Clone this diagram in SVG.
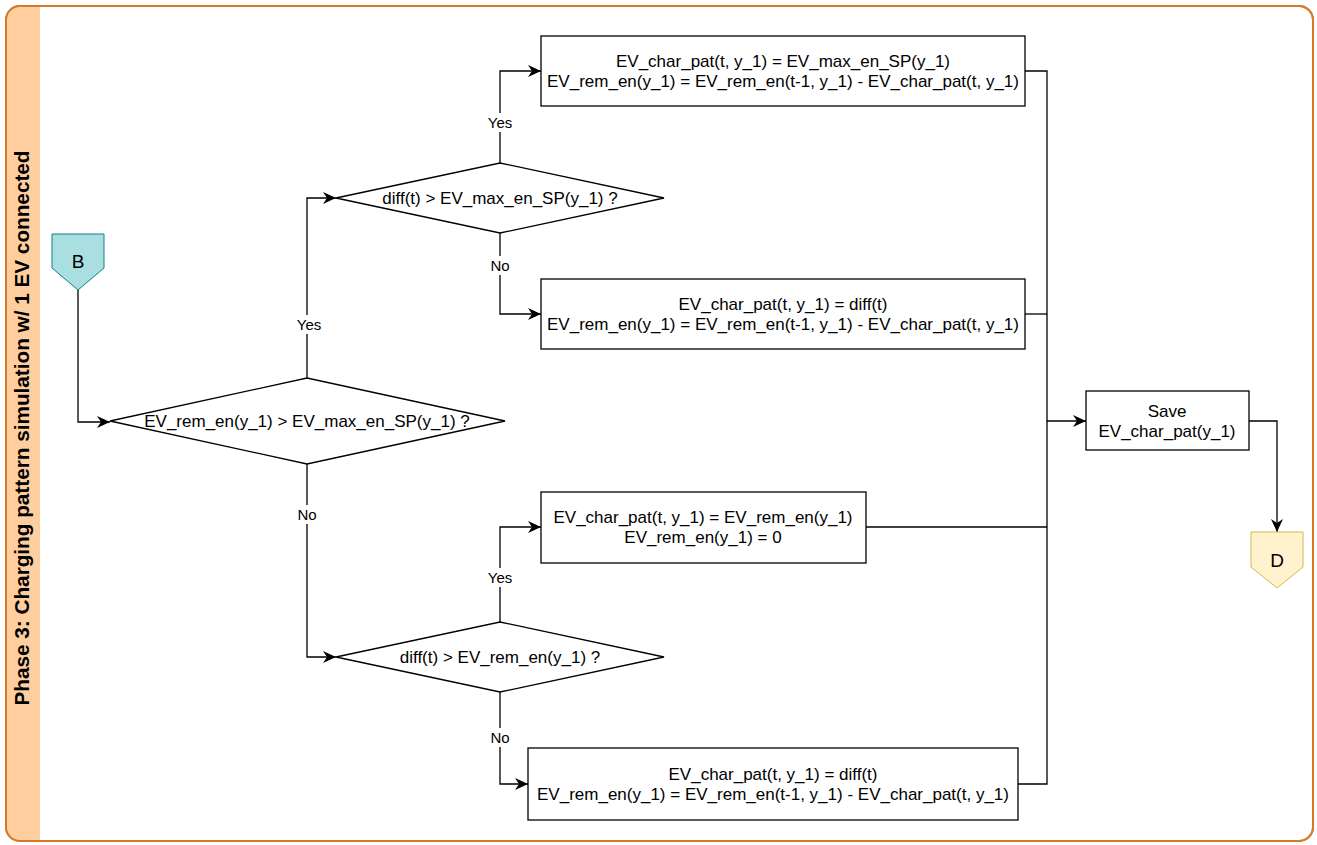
<svg xmlns="http://www.w3.org/2000/svg" width="1317" height="845" viewBox="0 0 1317 845">
<style>
.t{font-family:"Liberation Sans",Arial,sans-serif;font-size:17px;fill:#000;text-anchor:middle}
.lb{font-family:"Liberation Sans",Arial,sans-serif;font-size:15px;fill:#000;text-anchor:middle}
.box{fill:#fff;stroke:#000;stroke-width:1.3}
.c{fill:none;stroke:#000;stroke-width:1.3}
</style>
<defs>
<marker id="arr" markerWidth="14" markerHeight="12" refX="13" refY="6" orient="auto" markerUnits="userSpaceOnUse">
<path d="M0,0 L13,6 L0,12 L4,6 Z" fill="#000"/>
</marker>
</defs>
<g id="container">
<rect x="6" y="6" width="1307" height="835" rx="14" ry="14" fill="#fff" stroke="#D37A2C" stroke-width="2"/>
<path d="M40,7 L20,7 Q7,7 7,20 L7,827 Q7,840 20,840 L40,840 Z" fill="#FFCE9F"/>
<rect x="6" y="6" width="1307" height="835" rx="14" ry="14" fill="none" stroke="#D37A2C" stroke-width="2"/>
<text transform="translate(29,428) rotate(-90)" textLength="555" lengthAdjust="spacingAndGlyphs" style="font-family:'Liberation Sans',Arial,sans-serif;font-size:20px;font-weight:bold;text-anchor:middle">Phase 3: Charging pattern simulation w/ 1 EV connected</text>
</g>
<g id="connectors">
<polyline class="c" points="78,290 78,422 110,422" marker-end="url(#arr)"/>
<polyline class="c" points="307,378 307,198 336,198" marker-end="url(#arr)"/>
<polyline class="c" points="307,464 307,657 336,657" marker-end="url(#arr)"/>
<polyline class="c" points="500,163 500,71 541,71" marker-end="url(#arr)"/>
<polyline class="c" points="500,233 500,314 541,314" marker-end="url(#arr)"/>
<polyline class="c" points="500,622 500,527 541,527" marker-end="url(#arr)"/>
<polyline class="c" points="500,692 500,784 528,784" marker-end="url(#arr)"/>
<polyline class="c" points="1025,71 1047,71 1047,421 1086,421" marker-end="url(#arr)"/>
<polyline class="c" points="1025,314 1047,314"/>
<polyline class="c" points="866,527 1047,527"/>
<polyline class="c" points="1018,784 1047,784 1047,421"/>
<polyline class="c" points="1249,421 1277,421 1277,532" marker-end="url(#arr)"/>
<rect x="294" y="315" width="30" height="19" fill="#fff"/>
<text class="lb" x="309" y="330">Yes</text>
<rect x="295" y="505" width="24" height="19" fill="#fff"/>
<text class="lb" x="307" y="520">No</text>
<rect x="485" y="113" width="30" height="19" fill="#fff"/>
<text class="lb" x="500" y="128">Yes</text>
<rect x="488" y="256" width="24" height="19" fill="#fff"/>
<text class="lb" x="500" y="271">No</text>
<rect x="485" y="568" width="30" height="19" fill="#fff"/>
<text class="lb" x="500" y="583">Yes</text>
<rect x="488" y="728" width="24" height="19" fill="#fff"/>
<text class="lb" x="500" y="743">No</text>
</g>
<g id="nodeB">
<path d="M52,234 L104,234 L104,268 L78,290 L52,268 Z" fill="#A9DFE0" stroke="#0E8088" stroke-width="1"/>
<text class="t" x="78" y="268" style="font-size:19px">B</text>
</g>
<g id="dec1">
<path d="M110,421 L307,378 L505,421 L307,464 Z" class="box"/>
<text class="t" x="307" y="427">EV_rem_en(y_1) &gt; EV_max_en_SP(y_1) ?</text>
</g>
<g id="dec2">
<path d="M336,198 L500,163 L664,198 L500,233 Z" class="box"/>
<text class="t" x="500" y="204">diff(t) &gt; EV_max_en_SP(y_1) ?</text>
</g>
<g id="dec3">
<path d="M336,657 L500,622 L664,657 L500,692 Z" class="box"/>
<text class="t" x="500" y="663">diff(t) &gt; EV_rem_en(y_1) ?</text>
</g>
<g id="box1">
<rect x="541" y="36" width="484" height="70" class="box"/>
<text class="t" x="783" y="67">EV_char_pat(t, y_1) = EV_max_en_SP(y_1)</text>
<text class="t" x="783" y="87">EV_rem_en(y_1) = EV_rem_en(t-1, y_1) - EV_char_pat(t, y_1)</text>
</g>
<g id="box2">
<rect x="541" y="279" width="484" height="70" class="box"/>
<text class="t" x="783" y="310">EV_char_pat(t, y_1) = diff(t)</text>
<text class="t" x="783" y="330">EV_rem_en(y_1) = EV_rem_en(t-1, y_1) - EV_char_pat(t, y_1)</text>
</g>
<g id="box3">
<rect x="541" y="492" width="325" height="71" class="box"/>
<text class="t" x="703" y="523">EV_char_pat(t, y_1) = EV_rem_en(y_1)</text>
<text class="t" x="703" y="543">EV_rem_en(y_1) = 0</text>
</g>
<g id="box4">
<rect x="528" y="748" width="490" height="72" class="box"/>
<text class="t" x="773" y="780">EV_char_pat(t, y_1) = diff(t)</text>
<text class="t" x="773" y="800">EV_rem_en(y_1) = EV_rem_en(t-1, y_1) - EV_char_pat(t, y_1)</text>
</g>
<g id="save">
<rect x="1086" y="391" width="163" height="59" class="box"/>
<text class="t" x="1167" y="417">Save</text>
<text class="t" x="1167" y="437">EV_char_pat(y_1)</text>
</g>
<g id="nodeD">
<path d="M1251,532 L1303,532 L1303,567 L1277,588 L1251,567 Z" fill="#FFF2CC" stroke="#D6B656" stroke-width="1"/>
<text class="t" x="1277" y="567" style="font-size:19px">D</text>
</g>
</svg>
